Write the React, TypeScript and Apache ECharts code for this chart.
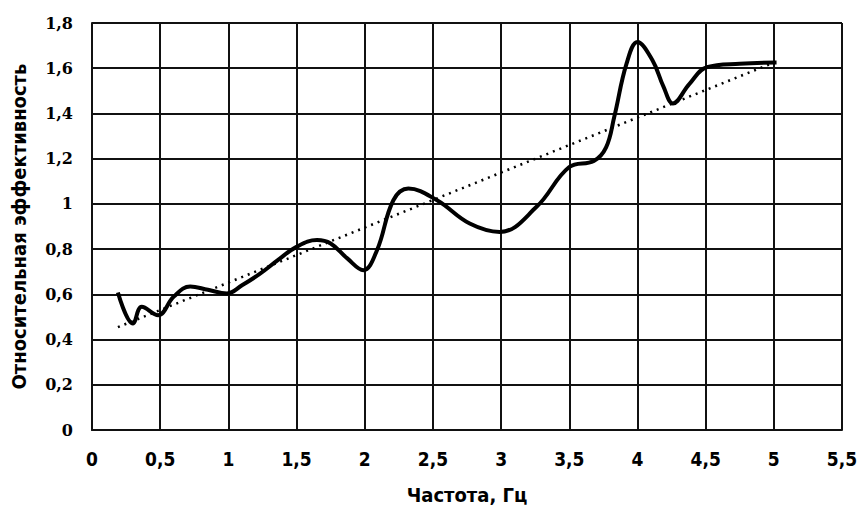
import React, { useEffect, useRef } from "react";
import * as echarts from "echarts";

const freq = [0.19, 0.3, 0.365, 0.485, 0.6, 0.72, 0.85, 0.99, 1.1, 1.23, 1.36, 1.5, 1.65, 1.75, 1.87, 1.99, 2.09, 2.21, 2.32, 2.53, 2.77, 2.99, 3.26, 3.5, 3.68, 3.77, 3.83, 3.92, 4.0, 4.11, 4.19, 4.26, 4.38, 4.51, 4.75, 5.02];
const efficiency = [0.608, 0.471, 0.545, 0.508, 0.59, 0.635, 0.62, 0.604, 0.64, 0.69, 0.75, 0.81, 0.84, 0.825, 0.76, 0.707, 0.795, 1.016, 1.068, 1.016, 0.913, 0.876, 0.987, 1.163, 1.19, 1.25, 1.385, 1.62, 1.716, 1.635, 1.52, 1.444, 1.53, 1.605, 1.62, 1.625];
const trendX = [0.19, 5.0];
const trendY = [0.455, 1.625];

const sansCond = "'DejaVu Sans Condensed', 'Liberation Sans Narrow', 'Roboto', sans-serif";

export default function App() {
  const ref = useRef<HTMLDivElement>(null);
  useEffect(() => {
    const chart = echarts.init(ref.current!, null, { renderer: "svg" });
    const comma = (v: number) => String(Math.round(v * 10) / 10).replace(".", ",");
    chart.setOption({
      animation: false,
      backgroundColor: "#ffffff",
      grid: { left: 92, right: 15, top: 23, bottom: 77, outerBoundsMode: "none", containLabel: false },
      xAxis: {
        type: "value",
        min: 0,
        max: 5.5,
        interval: 0.5,
        name: "Частота, Гц",
        nameLocation: "middle",
        nameGap: 55,
        nameTextStyle: { fontFamily: sansCond, fontWeight: "bold", fontSize: 20, color: "#000" },
        axisLine: { show: true, lineStyle: { color: "#111", width: 2 } },
        axisTick: { show: false },
        splitLine: { show: true, lineStyle: { color: "#111", width: 2 } },
        axisLabel: {
          formatter: (v: number) => String(v).replace(".", ","),
          margin: 19,
          fontFamily: sansCond,
          fontWeight: "bold",
          fontSize: 19,
          color: "#000",
        },
      },
      yAxis: {
        type: "value",
        min: 0,
        max: 1.8,
        interval: 0.2,
        name: "Относительная эффективность",
        nameLocation: "middle",
        nameGap: 63,
        nameTextStyle: { fontFamily: sansCond, fontWeight: "bold", fontSize: 20, color: "#000" },
        axisLine: { show: true, lineStyle: { color: "#111", width: 2 } },
        axisTick: { show: false },
        splitLine: { show: true, lineStyle: { color: "#111", width: 2 } },
        axisLabel: {
          formatter: comma,
          margin: 19,
          fontFamily: "'DejaVu Serif', 'Liberation Serif', serif",
          fontWeight: "bold",
          fontSize: 16,
          color: "#000",
        },
      },
      series: [
        {
          type: "line",
          data: freq.map((x, i) => [x, efficiency[i]]),
          smooth: 0.4,
          symbol: "none",
          lineStyle: { color: "#000", width: 4 },
          z: 3,
        },
        {
          type: "line",
          data: trendX.map((x, i) => [x, trendY[i]]),
          symbol: "none",
          lineStyle: { color: "#000", width: 2.5, type: [2, 5] },
          z: 2,
        },
      ],
    });
    return () => chart.dispose();
  }, []);
  return <div ref={ref} style={{ position: "absolute", left: 0, top: 0, width: 857, height: 507 }} />;
}
